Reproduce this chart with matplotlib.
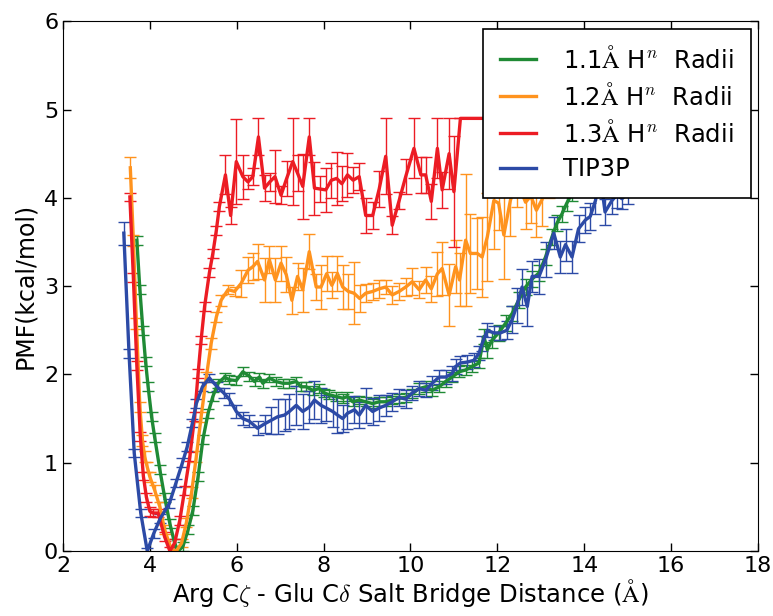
import matplotlib
matplotlib.use("Agg")
import matplotlib.pyplot as plt
from matplotlib.lines import Line2D

plt.rcParams['mathtext.fontset'] = 'cm'
plt.rcParams['font.family'] = ['DejaVu Sans']

# ---- 1.1 A H^n radii (green) ----
x_11 = [3.70, 3.77, 3.84, 3.90, 3.96, 4.04, 4.11, 4.23, 4.34, 4.46, 4.57, 4.65, 4.76, 4.88,
        4.99, 5.11, 5.22, 5.34, 5.45, 5.57, 5.72, 5.83, 5.99, 6.14, 6.29, 6.41, 6.52, 6.60,
        6.75, 6.90, 7.06, 7.21, 7.37, 7.48, 7.60, 7.75, 7.90, 8.02, 8.13, 8.29, 8.44, 8.55,
        8.67, 8.82, 8.97, 9.13, 9.28, 9.43, 9.58, 9.74, 9.89, 10.04, 10.20, 10.35, 10.50,
        10.66, 10.81, 10.96, 11.12, 11.27, 11.42, 11.58, 11.69, 11.77, 11.88, 12.03, 12.19,
        12.34, 12.49, 12.65, 12.80, 12.96, 13.11, 13.26, 13.37, 13.49, 13.60, 13.72, 13.85, 14.00]
y_11 = [3.52, 2.96, 2.50, 2.15, 1.86, 1.52, 1.29, 0.92, 0.61, 0.31, 0.09, 0.00, 0.05, 0.24,
        0.46, 0.84, 1.26, 1.56, 1.75, 1.90, 1.97, 1.94, 1.93, 2.03, 1.98, 1.92, 1.97, 1.90,
        1.96, 1.92, 1.90, 1.90, 1.92, 1.86, 1.86, 1.82, 1.84, 1.79, 1.77, 1.75, 1.73, 1.75,
        1.69, 1.71, 1.69, 1.67, 1.69, 1.69, 1.71, 1.73, 1.74, 1.78, 1.84, 1.86, 1.82,
        1.86, 1.92, 1.97, 2.03, 2.05, 2.09, 2.13, 2.43, 2.28, 2.39, 2.47, 2.58,
        2.69, 2.84, 2.99, 3.08, 3.15, 3.33, 3.56, 3.71, 3.82, 3.94, 4.05, 4.20, 4.35]
e_11 = [0.05] * 22 + [0.05] * 30 + [0.06] * 10 + [0.09] * 18

# ---- 1.2 A H^n radii (orange) ----
x_12 = [3.55, 3.62, 3.69, 3.77, 3.83, 3.88, 3.94, 4.00, 4.11, 4.23, 4.34, 4.50, 4.61, 4.73,
        4.84, 4.96, 5.07, 5.18, 5.30, 5.41, 5.53, 5.64, 5.80, 5.95, 6.10, 6.26, 6.37, 6.48,
        6.64, 6.75, 6.89, 7.02, 7.14, 7.27, 7.40, 7.52, 7.67, 7.83, 7.94, 8.07, 8.19, 8.32,
        8.44, 8.57, 8.70, 8.83, 8.97, 9.13, 9.28, 9.43, 9.58, 9.74, 9.89, 10.04, 10.20,
        10.35, 10.48, 10.62, 10.73, 10.89, 11.04, 11.13, 11.27, 11.38, 11.54, 11.65, 11.77,
        11.92, 12.03, 12.15, 12.30, 12.45, 12.65, 12.77, 12.90, 13.03, 13.18, 13.33]
y_12 = [4.34, 3.52, 2.58, 1.63, 1.25, 1.07, 0.95, 0.84, 0.69, 0.50, 0.24, 0.01, 0.00, 0.09,
        0.32, 0.66, 1.07, 1.52, 1.97, 2.35, 2.65, 2.84, 2.96, 2.94, 3.03, 3.18, 3.22, 3.28,
        3.07, 3.30, 3.07, 3.26, 3.13, 2.84, 3.11, 2.96, 3.39, 2.99, 2.99, 3.14, 3.01, 3.14,
        2.99, 2.94, 2.92, 2.86, 2.92, 2.94, 2.97, 2.99, 2.90, 2.94, 2.99, 3.05, 2.96,
        3.07, 2.97, 3.14, 3.20, 2.90, 3.22, 3.07, 3.52, 3.37, 3.37, 3.33, 3.56,
        3.97, 3.94, 3.58, 3.97, 4.20, 3.95, 4.02, 3.86, 3.98, 4.30, 4.50]
e_12 = [0.12, 0.06, 0.06, 0.06, 0.06, 0.06, 0.06, 0.06, 0.06, 0.06, 0.05, 0.04, 0.04, 0.05,
        0.05, 0.06, 0.06, 0.06, 0.06, 0.06, 0.06, 0.06, 0.05, 0.05, 0.15, 0.15, 0.15, 0.20,
        0.25, 0.15, 0.25, 0.20, 0.20, 0.15, 0.15, 0.25, 0.20, 0.15, 0.25, 0.20, 0.15, 0.20,
        0.25, 0.20, 0.35, 0.15, 0.10, 0.10, 0.10, 0.08, 0.10, 0.10, 0.10, 0.15, 0.10,
        0.15, 0.15, 0.25, 0.30, 0.35, 0.30, 0.30, 0.75, 0.45, 0.40, 0.45, 0.50,
        0.55, 0.30, 0.50, 0.40, 0.30, 0.30, 0.30, 0.30, 0.30, 0.30, 0.30]

# ---- 1.3 A H^n radii (red) ----
x_13 = [3.54, 3.62, 3.70, 3.78, 3.85, 3.92, 4.00, 4.07, 4.19, 4.34, 4.46, 4.57, 4.69, 4.80,
        4.92, 5.03, 5.11, 5.18, 5.26, 5.37, 5.45, 5.53, 5.60, 5.74, 5.86, 5.99, 6.14, 6.26,
        6.37, 6.50, 6.64, 6.76, 6.88, 7.02, 7.15, 7.29, 7.40, 7.52, 7.67, 7.79, 7.92, 8.05,
        8.18, 8.30, 8.42, 8.55, 8.68, 8.82, 8.97, 9.13, 9.28, 9.43, 9.58, 9.74, 9.89, 10.08,
        10.24, 10.35, 10.48, 10.62, 10.73, 10.89, 11.00, 11.15, 11.30, 11.45, 11.60, 11.75,
        11.90, 12.05]
y_13 = [4.01, 3.10, 2.10, 1.30, 0.85, 0.61, 0.45, 0.43, 0.43, 0.16, 0.00, 0.09, 0.35, 0.69,
        1.07, 1.52, 2.01, 2.39, 2.77, 3.15, 3.37, 3.63, 3.90, 4.26, 3.80, 4.41, 4.24, 4.18,
        4.24, 4.69, 4.11, 4.18, 4.24, 4.03, 4.22, 4.41, 4.28, 4.13, 4.69, 4.11, 4.10, 4.09,
        4.20, 4.22, 4.16, 4.26, 4.20, 4.24, 3.80, 3.80, 4.10, 4.47, 3.69, 3.97, 4.24, 4.56,
        4.26, 4.26, 3.96, 4.56, 4.09, 4.50, 4.07, 4.90, 4.90, 4.90, 4.90, 4.90,
        4.90, 4.90]
e_13 = [0.05] * 22 + [0.05, 0.22, 0.10, 0.48, 0.25, 0.08, 0.10, 0.21, 0.15, 0.10, 0.30,
        0.10, 0.20, 0.49, 0.20, 0.37, 0.21, 0.30, 0.15, 0.25, 0.20, 0.30, 0.20, 0.25,
        0.15, 0.15, 0.20, 0.15, 0.20, 0.43, 0.10, 0.10, 0.20, 0.34, 0.20, 0.20, 0.20,
        0.34, 0.20, 0.40, 0.63, 0.0, 0.0, 0.0, 0.0, 0.0, 0.0, 0.0]

# ---- TIP3P (blue) ----
x_tip = [3.40, 3.52, 3.64, 3.79, 3.94, 4.09, 4.24, 4.45, 4.60, 4.75, 4.86, 4.98, 5.07, 5.21,
         5.37, 5.55, 5.70, 5.83, 5.99, 6.14, 6.29, 6.48, 6.64, 6.79, 6.94, 7.10, 7.21, 7.37,
         7.52, 7.67, 7.79, 7.94, 8.06, 8.21, 8.32, 8.44, 8.55, 8.71, 8.82, 8.97, 9.13, 9.28,
         9.43, 9.58, 9.74, 9.89, 10.04, 10.20, 10.35, 10.50, 10.66, 10.81, 10.96, 11.04,
         11.15, 11.31, 11.46, 11.58, 11.65, 11.77, 11.92, 12.07, 12.22, 12.34, 12.45, 12.57,
         12.69, 12.80, 12.96, 13.11, 13.30, 13.45, 13.57, 13.72, 13.87, 14.03, 14.14, 14.26,
         14.37, 14.48, 14.64, 14.75, 14.87, 15.00]
y_tip = [3.60, 2.24, 1.11, 0.43, 0.00, 0.20, 0.37, 0.54, 0.77, 1.00, 1.18, 1.45, 1.67, 1.86,
         1.96, 1.86, 1.79, 1.72, 1.58, 1.50, 1.47, 1.39, 1.44, 1.48, 1.52, 1.54, 1.58, 1.65,
         1.58, 1.63, 1.71, 1.65, 1.62, 1.58, 1.54, 1.50, 1.56, 1.60, 1.54, 1.65, 1.58, 1.62,
         1.65, 1.69, 1.74, 1.72, 1.79, 1.84, 1.82, 1.90, 1.97, 1.97, 2.01, 2.09,
         2.13, 2.14, 2.16, 2.24, 2.35, 2.50, 2.47, 2.47, 2.50, 2.62, 2.78, 2.99,
         2.77, 3.11, 3.11, 3.30, 3.60, 3.33, 3.47, 3.33, 3.65, 3.75, 3.79, 3.97,
         4.25, 3.84, 3.97, 4.03, 3.99, 4.05]
e_tip = [0.13, 0.05, 0.05, 0.05, 0.03, 0.05, 0.05, 0.05, 0.05, 0.05, 0.05, 0.05, 0.05, 0.05,
         0.05, 0.05, 0.06, 0.07, 0.07, 0.07, 0.07, 0.08, 0.10, 0.15, 0.20, 0.18, 0.20, 0.22,
         0.20, 0.18, 0.22, 0.20, 0.15, 0.18, 0.20, 0.15, 0.18, 0.15, 0.15, 0.20, 0.15, 0.15,
         0.12, 0.10, 0.10, 0.10, 0.08, 0.08, 0.08, 0.08, 0.08, 0.08, 0.08, 0.08,
         0.08, 0.08, 0.08, 0.08, 0.08, 0.08, 0.08, 0.08, 0.10, 0.15, 0.20, 0.20,
         0.22, 0.18, 0.20, 0.20, 0.18, 0.18, 0.18, 0.18, 0.15, 0.15, 0.15, 0.15,
         0.15, 0.15, 0.15, 0.15, 0.12, 0.12]

labels = [r'1.1$\mathrm{\AA}$ H$^n$  Radii', r'1.2$\mathrm{\AA}$ H$^n$  Radii',
          r'1.3$\mathrm{\AA}$ H$^n$  Radii', 'TIP3P']
colors = ['#1f8a35', '#ff931e', '#ec1c24', '#2c4aa6']

fig = plt.figure(figsize=(7.73, 6.16), dpi=100)
ax = fig.add_axes([0.0815, 0.1055, 0.899, 0.860])

series = [(x_11, y_11, e_11), (x_12, y_12, e_12), (x_13, y_13, e_13), (x_tip, y_tip, e_tip)]
for (xs, ys, es), col in zip(series, colors):
    ax.errorbar(xs, ys, yerr=es, color=col, lw=2.4, elinewidth=1.0, capsize=4,
                capthick=1.0, ecolor=col)

ax.set_xlim(2, 18)
ax.set_ylim(0, 6)
ax.set_xticks(range(2, 19, 2))
ax.set_yticks(range(0, 7))
ax.tick_params(direction='in', top=True, right=True, labelsize=16, length=6, width=1)
ax.set_xlabel(r'Arg C$\zeta$ - Glu C$\delta$ Salt Bridge Distance ($\mathrm{\AA}$)',
              fontsize=17.5, labelpad=1)
ax.set_ylabel('PMF(kcal/mol)', fontsize=17, labelpad=5)

h2 = [Line2D([], [], color=c, lw=2.4) for c in colors]
leg = ax.legend(h2, labels, loc='upper right', fontsize=17.5, frameon=True, fancybox=False,
                edgecolor='black', framealpha=1, borderaxespad=0.3, borderpad=0.7,
                handlelength=1.5, handletextpad=1.1, labelspacing=0.42)
leg.get_frame().set_linewidth(1.2)

fig.savefig('out.png', dpi=100)
